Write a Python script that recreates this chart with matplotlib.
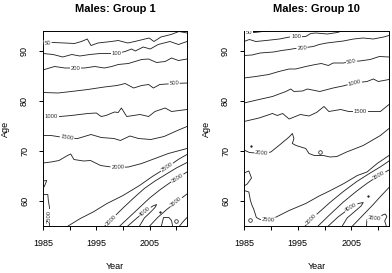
import numpy as np
import matplotlib
matplotlib.use("Agg")
import matplotlib.pyplot as plt

plt.rcParams['font.family'] = ['Liberation Sans', 'DejaVu Sans']

# ---------------- data ----------------
TITLES = ['Males: Group 1', 'Males: Group 10']
X_LABEL = 'Year'
Y_LABEL = 'Age'
YEAR_RANGE = (1985, 2012)
AGE_RANGE = (55, 94)
YEAR_TICKS = [1985, 1990, 1995, 2000, 2005, 2010]
YEAR_TICK_LABELS = ['1985', '', '1995', '', '2005', '']
AGE_TICKS = [60, 70, 80, 90]
AGE_TICK_LABELS = ['60', '70', '80', '90']

# Group 1 contour lines: (year, age) vertices
G1_50 = [(1985, 91.5), (1986.9, 91.7), (1989.1, 91.6), (1990.9, 91.5), (1992.2, 91.9), (1993.3, 92.4),
         (1994.0, 91.1), (1995.3, 91.6), (1997.8, 91.9), (1999.1, 92.1), (2000.9, 91.6), (2002.2, 91.9),
         (2004.9, 92.6), (2005.8, 91.9), (2007.1, 92.8), (2009.0, 93.3), (2010.5, 93.9), (2012, 93.6)]
G1_100 = [(1985, 89.5), (1986.9, 89.3), (1988.7, 88.8), (1990.4, 89.3), (1991.9, 89.0), (1993.8, 89.3),
          (1995.7, 89.5), (1998.8, 89.5), (2000.4, 89.9), (2001.6, 90.4), (2002.3, 90.0), (2003.8, 90.8),
          (2005.1, 90.4), (2006.6, 91.3), (2008.8, 91.9), (2010.4, 91.3), (2012, 91.9)]
G1_200 = [(1985, 86.2), (1986.2, 86.6), (1987.2, 86.9), (1989.1, 86.6), (1991.1, 86.6), (1992.8, 86.6),
          (1994.7, 86.9), (1996.5, 86.6), (1997.9, 86.9), (1999.1, 87.3), (2001.0, 87.5), (2003.5, 88.3),
          (2004.8, 88.4), (2006.3, 87.7), (2007.9, 87.9), (2009.1, 88.6), (2010.4, 88.1), (2012, 88.4)]
G1_500 = [(1985, 81.7), (1987.8, 81.6), (1990.3, 81.9), (1993.4, 82.3), (1996.5, 82.8), (1998.9, 83.1),
          (2000.4, 83.5), (2002.0, 82.6), (2003.5, 83.1), (2004.8, 83.3), (2005.7, 82.6), (2006.9, 83.3),
          (2009.6, 83.5), (2012, 83.6)]
G1_1000 = [(1985, 76.9), (1988.2, 76.9), (1990.3, 77.1), (1993.4, 77.5), (1995.0, 77.6), (1995.9, 76.9),
           (1996.8, 77.1), (1998.4, 77.8), (1999.1, 77.7), (1999.7, 78.6), (2000.7, 76.9), (2003.2, 77.3),
           (2004.8, 76.9), (2006.0, 77.9), (2007.9, 78.6), (2009.1, 77.9), (2012, 78.3)]
G1_1500 = [(1985, 73.1), (1986.5, 73.1), (1989.5, 72.6), (1991.5, 72.5), (1994.0, 73.3), (1995.9, 72.7),
           (1998.3, 72.5), (1999.5, 72.1), (2001.3, 73.0), (2002.9, 72.5), (2005.2, 72.3), (2007.7, 72.9),
           (2010.2, 74.1), (2012, 74.9)]
G1_2000 = [(1985, 67.6), (1986.5, 67.8), (1988.0, 68.1), (1989.6, 69.1), (1990.2, 69.4), (1990.8, 68.3),
           (1992.6, 68.0), (1993.9, 68.1), (1995.8, 67.1), (1997.1, 66.9), (1998.8, 66.7), (2001.0, 66.8),
           (2003.5, 67.5), (2006.0, 68.5), (2008.5, 69.5), (2012, 70.5)]
G1_2500 = [(1989.7, 55), (1992.0, 56.5), (1994.4, 57.8), (1997.0, 59.5), (2000.0, 61.1), (2003.1, 63.1),
           (2005.5, 64.9), (2008.2, 66.7), (2010.5, 68.4), (2012, 69.3)]
G1_2500_EDGE = [(1985, 64.0), (1985.7, 64.1), (1985.25, 62.9), (1985, 62.7)]
G1_2500_LEFT = [(1985, 61.3), (1985.9, 61.3), (1986.0, 60.1), (1986.2, 58.8), (1986.2, 57.0), (1986.2, 55)]
G1_3000 = [(1996.6, 55), (1998.0, 56.5), (2000.0, 58.6), (2002.0, 60.6), (2004.0, 62.5), (2006.0, 64.0),
           (2008.0, 65.3), (2010.0, 66.6), (2012, 67.7)]
G1_3500 = [(1999.4, 55), (2001.0, 56.6), (2003.0, 58.6), (2005.0, 60.6), (2007.0, 62.3), (2009.0, 63.8),
           (2010.2, 64.6), (2012, 65.8)]
G1_4000 = [(2000.9, 55), (2002.5, 56.5), (2004.2, 58.0), (2005.6, 59.0), (2006.3, 59.3), (2006.0, 58.7),
           (2005.0, 57.6), (2004.0, 56.6), (2003.1, 55)]
G1_3500_LOW = [(2005.0, 55), (2006.5, 56.7), (2008.2, 58.3), (2010.0, 59.8), (2012, 61.4)]
G1_3000_LOW_A = [(2007.2, 55), (2007.6, 56.7), (2008.6, 56.7), (2009.1, 56.1), (2009.3, 55)]
G1_3000_LOW_B = [(2010.6, 55), (2011.3, 55.9), (2012, 56.7)]
G1_DOTS = [(2006.9, 57.9)]
G1_RINGS = [(2009.9, 56.1)]

# Group 10 contour lines
G10_50 = [(1985, 93.7), (1987.0, 93.7), (1988.5, 93.9), (1989.3, 94.0)]
G10_100 = [(1985, 91.9), (1986.0, 92.3), (1987.2, 91.9), (1989.1, 92.1), (1991.6, 92.4), (1993.5, 92.8),
           (1994.7, 92.8), (1996.5, 92.9), (1997.4, 93.5), (1998.4, 93.6), (2000.5, 93.4), (2002.4, 93.7),
           (2003.5, 94.1)]
G10_200 = [(1985, 89.1), (1986.5, 89.2), (1988.0, 89.6), (1990.5, 89.8), (1992.0, 90.1), (1993.4, 90.3),
           (1994.5, 90.5), (1995.8, 90.6), (1997.9, 90.9), (1999.0, 91.3), (2000.4, 91.6), (2003.5, 92.0),
           (2005.4, 92.4), (2007.2, 92.6), (2009.1, 92.4), (2011.0, 92.8), (2012, 93.1)]
G10_500 = [(1985, 84.6), (1987.2, 84.9), (1989.6, 85.3), (1991.5, 85.9), (1993.4, 86.4), (1994.6, 86.4),
           (1996.5, 86.9), (1998.3, 87.3), (1999.4, 87.5), (2000.7, 87.1), (2001.6, 87.6), (2003.5, 87.6),
           (2005.0, 87.9), (2006.5, 88.0), (2008.5, 88.3), (2010.2, 88.9), (2012, 88.8)]
G10_1000 = [(1985, 79.6), (1987.8, 80.3), (1990.3, 80.9), (1992.8, 81.9), (1993.7, 82.4), (1994.3, 81.9),
            (1995.9, 82.0), (1996.8, 82.4), (1998.2, 82.1), (1999.1, 81.9), (2001.6, 82.6), (2003.4, 83.0),
            (2005.6, 83.6), (2007.9, 83.9), (2009.1, 84.4), (2010.0, 83.9), (2012, 84.3)]
G10_1500 = [(1985, 75.9), (1987.8, 76.6), (1990.3, 77.5), (1991.2, 77.1), (1992.2, 77.5), (1993.4, 76.4),
            (1995.5, 77.3), (1997.1, 77.0), (1998.5, 77.7), (1999.9, 78.9), (2000.8, 77.9), (2003.0, 78.3),
            (2004.5, 77.9), (2006.7, 77.9), (2010.4, 77.9), (2012, 79.3)]
G10_2000 = [(1985, 70.2), (1986.0, 69.7), (1988.3, 69.5), (1990.0, 69.8), (1991.5, 71.1), (1993.4, 72.8),
            (1994.0, 73.5), (1994.3, 72.5), (1994.0, 71.5), (1994.7, 71.1), (1995.6, 70.8), (1996.5, 70.5),
            (1997.1, 69.5), (1998.1, 69.1), (1999.8, 69.1), (2001.0, 68.8), (2002.3, 68.9), (2004.1, 69.8),
            (2007.2, 71.1), (2010.4, 73.1), (2012, 74.5)]
G10_2500_EDGE = [(1985, 65.6), (1985.9, 66.0), (1986.4, 64.6), (1985.6, 63.4), (1985, 63.0)]
G10_2500 = [(1985, 62.1), (1985.9, 61.8), (1986.2, 60.1), (1986.5, 59.1), (1986.8, 58.4), (1987.3, 56.7),
            (1988.0, 56.3), (1989.5, 56.2), (1991.0, 56.8), (1993.4, 58.1), (1996.5, 59.5), (1999.0, 61.0),
            (2001.1, 62.1), (2003.6, 63.5), (2006.1, 65.1), (2007.9, 65.8), (2009.8, 67.5), (2012, 69.1)]
G10_3000 = [(1996.4, 55), (1998.5, 57.3), (2001.0, 59.7), (2003.5, 61.9), (2006.0, 63.9), (2008.5, 65.6),
            (2010.5, 66.9), (2012, 68.0)]
G10_3500 = [(1998.8, 55), (2001.0, 57.3), (2003.5, 59.8), (2006.0, 62.0), (2008.0, 63.6), (2010.0, 65.0),
            (2012, 66.2)]
G10_4000 = [(2000.7, 55), (2002.5, 56.8), (2004.5, 58.4), (2006.3, 59.5), (2007.2, 59.7), (2006.8, 59.0),
            (2005.5, 57.8), (2004.2, 56.6), (2003.3, 55)]
G10_3500_LOW = [(2005.2, 55), (2007.0, 57.0), (2008.8, 59.0), (2010.5, 61.0), (2012, 62.7)]
G10_3500_CORNER = [(2007.8, 55), (2007.9, 56.3), (2008.5, 56.6), (2009.3, 56.5), (2010.2, 56.6),
                   (2010.8, 57.2), (2011.3, 57.4), (2011.6, 56.9), (2011.2, 56.0), (2011.5, 55)]
G10_DOTS = [(2008.0, 61.1), (1986.3, 71.1)]
G10_RINGS = [(1999.1, 69.8), (1986.2, 56.2)]

# (level, line) tables built from the arrays above
G1_LINES = [(50, G1_50), (100, G1_100), (200, G1_200), (500, G1_500), (1000, G1_1000),
            (1500, G1_1500), (2000, G1_2000), (2500, G1_2500), (2500, G1_2500_EDGE),
            (2500, G1_2500_LEFT), (3000, G1_3000), (3500, G1_3500), (4000, G1_4000),
            (3500, G1_3500_LOW), (3000, G1_3000_LOW_A), (3000, G1_3000_LOW_B)]
G10_LINES = [(50, G10_50), (100, G10_100), (200, G10_200), (500, G10_500), (1000, G10_1000),
             (1500, G10_1500), (2000, G10_2000), (2500, G10_2500_EDGE), (2500, G10_2500),
             (3000, G10_3000), (3500, G10_3500), (4000, G10_4000), (3500, G10_3500_LOW),
             (3500, G10_3500_CORNER)]

# ---------------- layout (label anchors: line index -> approx position) ----------------
G1_LABEL_AT = {0: (1985.9, 91.5), 1: (1998.8, 89.5), 2: (1991.1, 86.6), 3: (2009.6, 83.5),
               4: (1986.6, 76.9), 5: (1989.5, 72.6), 6: (1999.0, 66.7), 7: (2008.2, 66.8),
               9: (1986.2, 57.0), 10: (1997.7, 56.2), 11: (2010.2, 64.6), 12: (2004.1, 57.9),
               13: (2010.2, 59.5)}
G10_LABEL_AT = {0: (1986.0, 93.7), 1: (1994.7, 92.8), 2: (1995.8, 90.6), 3: (2005.0, 87.9),
                4: (2005.6, 83.6), 5: (2006.7, 77.9), 6: (1988.3, 69.5), 8: (1989.5, 56.2),
                9: (1997.5, 56.4), 10: (2010.2, 65.0), 11: (2005.0, 58.6), 13: (2009.3, 56.5)}

LINE_COLOR = '#222222'
LW = 0.62

fig = plt.figure(figsize=(3.92, 2.73), dpi=100)
W, H = 392.0, 273.0
rects = [(43 / W, 1 - 226 / H, 144 / W, 195 / H),
         (244 / W, 1 - 226 / H, 145 / W, 195 / H)]


def place_label(ax, path, anchor, text):
    pts = ax.transData.transform(np.array(path, dtype=float))
    a = ax.transData.transform(anchor)
    best = None
    for i in range(len(pts) - 1):
        p, q = pts[i], pts[i + 1]
        d = q - p
        L2 = float(d @ d)
        t = float(np.clip(((a - p) @ d) / L2, 0, 1)) if L2 > 0 else 0.0
        c = p + t * d
        dist = float(np.hypot(*(a - c)))
        if best is None or dist < best[0]:
            best = (dist, c, d)
    _, c, d = best
    ang = np.degrees(np.arctan2(d[1], d[0]))
    if ang > 90:
        ang -= 180
    if ang <= -90:
        ang += 180
    x, y = ax.transData.inverted().transform(c)
    ax.text(x, y, text, rotation=ang, rotation_mode='anchor', ha='center', va='center',
            fontsize=4.2, color='#333333', zorder=5, clip_on=True,
            bbox=dict(boxstyle='square,pad=0.12', fc='white', ec='none'))


panels = [(G1_LINES, G1_LABEL_AT, G1_DOTS, G1_RINGS),
          (G10_LINES, G10_LABEL_AT, G10_DOTS, G10_RINGS)]

for k, (lines, label_at, dots, rings) in enumerate(panels):
    ax = fig.add_axes(rects[k])
    ax.set_xlim(*YEAR_RANGE)
    ax.set_ylim(*AGE_RANGE)
    for level, path in lines:
        xs = [p[0] for p in path]
        ys = [p[1] for p in path]
        ax.plot(xs, ys, color=LINE_COLOR, lw=LW, solid_joinstyle='round', zorder=2)
    for idx, anchor in label_at.items():
        level, path = lines[idx]
        place_label(ax, path, anchor, str(level))
    for (x, y) in dots:
        ax.plot([x], [y], marker='o', ms=1.3, mfc=LINE_COLOR, mec=LINE_COLOR, mew=0.3, zorder=3)
    for (x, y) in rings:
        ax.plot([x], [y], marker='o', ms=2.6, mfc='none', mec=LINE_COLOR, mew=0.55, zorder=3)

    ax.set_xticks(YEAR_TICKS)
    ax.set_xticklabels(YEAR_TICK_LABELS)
    ax.set_yticks(AGE_TICKS)
    ax.set_yticklabels(AGE_TICK_LABELS, rotation=90, va='center')
    ax.tick_params(direction='out', length=3.0, width=0.7, labelsize=6.5, colors='black')
    ax.tick_params(axis='x', pad=6)
    ax.tick_params(axis='y', pad=7)
    for s in ax.spines.values():
        s.set_linewidth(0.7)
        s.set_color('black')

    ax.set_title(TITLES[k], fontsize=8, fontweight='bold', pad=14)
    ax.set_xlabel(X_LABEL, fontsize=6.5)
    ax.xaxis.set_label_coords(0.5, -0.21)
    ax.xaxis.label.set_va('center')
    ax.set_ylabel(Y_LABEL, fontsize=6.5)
    ax.yaxis.set_label_coords(-0.26, 0.5)
    ax.yaxis.label.set_va('center')

fig.savefig('out.png', dpi=100)
